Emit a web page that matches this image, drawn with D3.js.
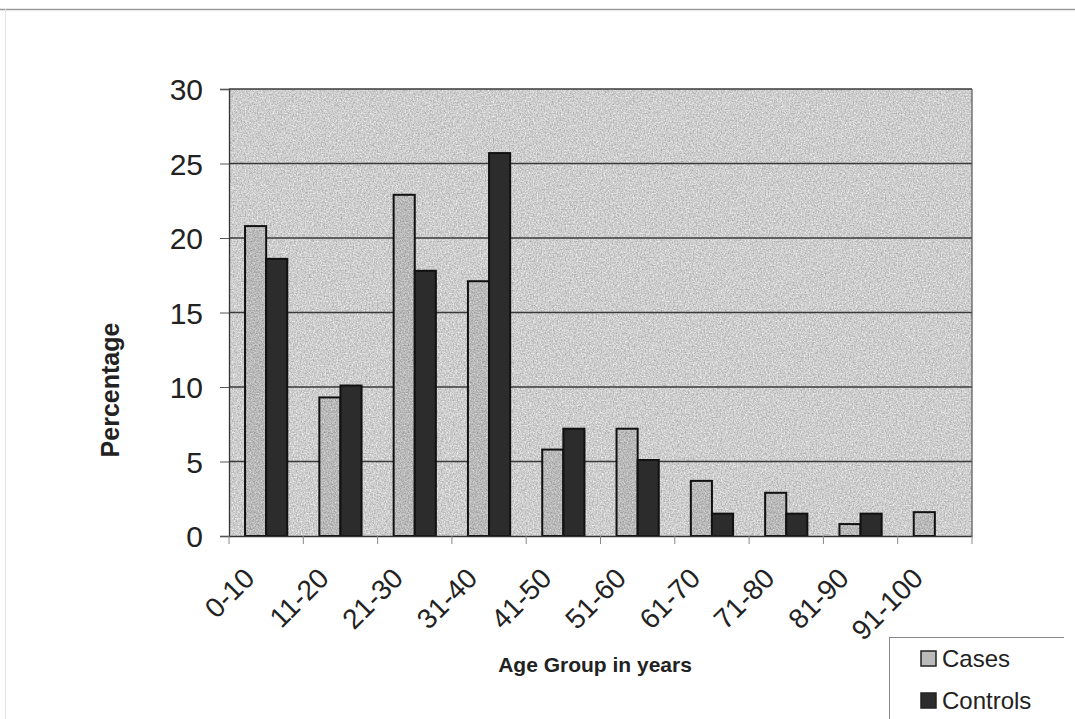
<!DOCTYPE html>
<html>
<head>
<meta charset="utf-8">
<script src="https://cdn.jsdelivr.net/npm/d3@7/dist/d3.min.js"></script>
<style>
  html, body { margin: 0; padding: 0; background: #fff; }
  svg { display: block; font-family: "Liberation Sans", Arial, sans-serif; }
</style>
</head>
<body>
<svg id="chart" width="1075" height="719"></svg>
<script>
// Age distribution of cases and controls (percent)
const ageGroups = ["0-10", "11-20", "21-30", "31-40", "41-50", "51-60", "61-70", "71-80", "81-90", "91-100"];
const cases     = [20.8, 9.3, 22.9, 17.1, 5.8, 7.2, 3.7, 2.9, 0.8, 1.6];
const controls  = [18.6, 10.1, 17.8, 25.7, 7.2, 5.1, 1.5, 1.5, 1.5, 0];
const yTicks    = [0, 5, 10, 15, 20, 25, 30];
const seriesNames = ["Cases", "Controls"];
const seriesFill  = ["#bababa", "#2c2c2c"];

const svg = d3.select("#chart");
const plot = { left: 229, right: 972, top: 89, bottom: 536 };

// speckled grey textures (plot background and light bars)
const defs = svg.append("defs");
function grain(id, offset, seed) {
  const f = defs.append("filter").attr("id", id)
    .attr("x", 0).attr("y", 0).attr("width", 1).attr("height", 1)
    .attr("color-interpolation-filters", "sRGB");
  f.append("feTurbulence").attr("type", "fractalNoise").attr("baseFrequency", 0.75)
    .attr("numOctaves", 2).attr("seed", seed).attr("result", "n");
  f.append("feColorMatrix").attr("in", "n").attr("type", "matrix")
    .attr("values", `0.45 0 0 0 ${offset}  0.45 0 0 0 ${offset}  0.45 0 0 0 ${offset}  0 0 0 0 1`);
}
grain("grainBg", 0.58, 3);
grain("grainBar", 0.5, 7);

// outer frame lines
svg.append("line").attr("x1", 0).attr("x2", 1075).attr("y1", 9.5).attr("y2", 9.5).attr("stroke", "#9a9a9a").attr("stroke-width", 1.5);
svg.append("line").attr("x1", 5.5).attr("x2", 5.5).attr("y1", 9).attr("y2", 719).attr("stroke", "#e4e4e4").attr("stroke-width", 1);

const x = d3.scaleBand().domain(ageGroups).range([plot.left, plot.right]);
const y = d3.scaleLinear().domain([0, 30]).range([plot.bottom, plot.top]);
const sub = d3.scaleBand().domain(seriesNames).range([0, x.bandwidth()]).paddingInner(0).paddingOuter(0.76);

// plot area background
svg.append("rect")
  .attr("x", plot.left).attr("y", plot.top)
  .attr("width", plot.right - plot.left).attr("height", plot.bottom - plot.top)
  .attr("fill", "#d0d0d0").attr("filter", "url(#grainBg)");

// gridlines
svg.append("g").selectAll("line").data(yTicks.filter(d => d > 0)).join("line")
  .attr("x1", plot.left).attr("x2", plot.right)
  .attr("y1", d => y(d)).attr("y2", d => y(d))
  .attr("stroke", "#3a3a3a").attr("stroke-width", 1.3);

// plot border right
svg.append("line").attr("x1", plot.right).attr("x2", plot.right).attr("y1", plot.top).attr("y2", plot.bottom)
  .attr("stroke", "#555").attr("stroke-width", 1.2);

// bars
const rows = ageGroups.map((g, i) => ({ g, vals: [cases[i], controls[i]] }));
const gg = svg.append("g").selectAll("g").data(rows).join("g")
  .attr("transform", d => `translate(${x(d.g)},0)`);
const barData = d => d.vals.map((v, j) => ({ v, s: seriesNames[j], j })).filter(e => e.v > 0);
gg.selectAll("rect.fill").data(barData).join("rect")
  .attr("class", "fill")
  .attr("x", e => sub(e.s))
  .attr("y", e => y(e.v))
  .attr("width", sub.bandwidth())
  .attr("height", e => y(0) - y(e.v))
  .attr("fill", e => seriesFill[e.j])
  .attr("filter", e => e.j === 0 ? "url(#grainBar)" : null);
gg.selectAll("rect.edge").data(barData).join("rect")
  .attr("class", "edge")
  .attr("x", e => sub(e.s))
  .attr("y", e => y(e.v))
  .attr("width", sub.bandwidth())
  .attr("height", e => y(0) - y(e.v))
  .attr("fill", e => e.j === 1 ? seriesFill[1] : "none")
  .attr("stroke", "#111").attr("stroke-width", 2);

// y axis
const yAxis = d3.axisLeft(y).tickValues(yTicks).tickSize(9).tickPadding(17);
const ya = svg.append("g").attr("transform", `translate(${plot.left},0)`).call(yAxis);
ya.select(".domain").attr("stroke", "#333").attr("stroke-width", 1.3);
ya.selectAll(".tick line").attr("stroke", "#555");
ya.selectAll("text").attr("font-size", 30).attr("fill", "#222")
  .attr("font-family", "Liberation Sans, Arial, sans-serif").attr("dy", "0.36em");

// x axis
const xAxis = d3.axisBottom(x).tickSize(0).tickFormat("");
const xa = svg.append("g").attr("transform", `translate(0,${plot.bottom})`).call(xAxis);
xa.select(".domain").attr("stroke", "#333").attr("stroke-width", 1.3);
// category boundary ticks
xa.selectAll(".bound").data(ageGroups.map(g => x(g)).concat([plot.right])).join("line")
  .attr("class", "bound")
  .attr("x1", d => d).attr("x2", d => d).attr("y1", 0).attr("y2", 8)
  .attr("stroke", "#888").attr("stroke-width", 1);
// rotated category labels
xa.selectAll(".lbl").data(ageGroups).join("text")
  .attr("class", "lbl")
  .attr("text-anchor", "end")
  .attr("font-size", 28).attr("fill", "#222")
  .attr("transform", d => `translate(${x(d) + x.bandwidth() / 2 - 10},${44}) rotate(-45)`)
  .text(d => d);

// axis titles
svg.append("text").attr("transform", "translate(119,390) rotate(-90)")
  .attr("text-anchor", "middle").attr("font-size", 25).attr("font-weight", "bold").attr("fill", "#222")
  .text("Percentage");
svg.append("text").attr("x", 595).attr("y", 672)
  .attr("text-anchor", "middle").attr("font-size", 21).attr("font-weight", "bold").attr("fill", "#222")
  .text("Age Group in years");

// legend
const lg = svg.append("g");
lg.append("line").attr("x1", 889).attr("x2", 1064).attr("y1", 637.5).attr("y2", 637.5).attr("stroke", "#888");
lg.append("line").attr("x1", 889.5).attr("x2", 889.5).attr("y1", 637).attr("y2", 719).attr("stroke", "#888");
const li = lg.selectAll("g").data(seriesNames).join("g")
  .attr("transform", (d, i) => `translate(921,${659 + i * 42})`);
li.append("rect").attr("x", 0).attr("y", -8).attr("width", 15).attr("height", 15)
  .attr("fill", (d, i) => seriesFill[i]).attr("stroke", "#222").attr("stroke-width", 1.5);
li.append("text").attr("x", 21).attr("y", 8).attr("font-size", 24).attr("fill", "#222").text(d => d);
</script>
</body>
</html>
